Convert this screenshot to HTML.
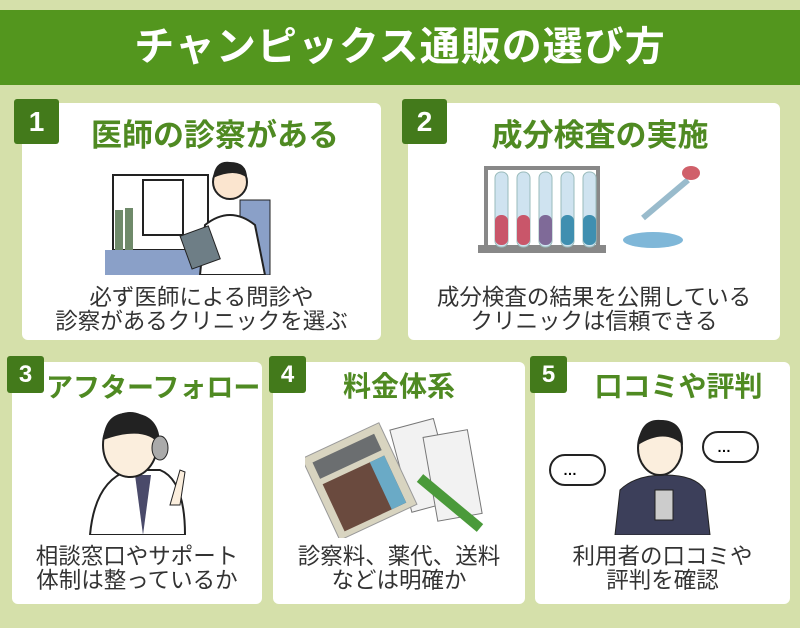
<!DOCTYPE html>
<html><head><meta charset="utf-8"><style>
*{margin:0;padding:0;box-sizing:border-box}
body{width:800px;height:628px;background:#d5e0aa;position:relative;overflow:hidden;font-family:"Liberation Sans","Noto Sans CJK JP",sans-serif}
.hdr{position:absolute;left:0;top:10px;width:800px;height:75px;background:#53961e;color:#fff;font-weight:bold;font-size:40px;text-align:center;line-height:75px;letter-spacing:1px}
.card{position:absolute;background:#fff;border-radius:6px}
.badge{position:absolute;background:#437a1b;color:#fff;font-weight:bold;border-radius:3px;text-align:center}
.h{position:absolute;color:#4f8a22;font-weight:bold;text-align:center;white-space:nowrap}
.t{position:absolute;color:#333;text-align:center;font-size:22.5px;line-height:24px;white-space:nowrap}
svg{position:absolute}
</style></head><body>
<div class="hdr">チャンピックス通販の選び方</div>

<div class="card" style="left:22px;top:103px;width:359px;height:237px"></div>
<div class="badge" style="left:14px;top:99px;width:45px;height:45px;font-size:28px;line-height:45px">1</div>
<div class="h" style="left:22px;top:110px;width:386px;font-size:31px">医師の診察がある</div>
<svg style="left:105px;top:150px" width="180" height="125">
<rect x="8" y="25" width="95" height="75" fill="#fff" stroke="#222" stroke-width="2"/>
<rect x="38" y="30" width="40" height="55" fill="#fff" stroke="#222" stroke-width="2"/>
<rect x="10" y="60" width="8" height="40" fill="#6f8a6a"/><rect x="20" y="58" width="8" height="42" fill="#6f8a6a"/>
<rect x="0" y="100" width="110" height="25" fill="#8aa0c8"/>
<rect x="135" y="50" width="30" height="75" fill="#8aa0c8" stroke="#222"/>
<path d="M95 125 L100 75 Q125 55 150 75 L160 125 Z" fill="#fff" stroke="#222" stroke-width="2"/>
<circle cx="125" cy="32" r="17" fill="#fbe5cf" stroke="#222" stroke-width="2"/>
<path d="M108 28 Q110 10 125 12 Q142 12 142 28 Q130 18 108 28" fill="#222"/>
<rect x="80" y="80" width="30" height="35" fill="#6e7e86" stroke="#222" transform="rotate(-20 95 97)"/>
</svg>
<div class="t" style="left:22px;top:286px;width:359px">必ず医師による問診や<br>診察があるクリニックを選ぶ</div>

<div class="card" style="left:408px;top:103px;width:372px;height:237px"></div>
<div class="badge" style="left:402px;top:99px;width:45px;height:45px;font-size:28px;line-height:45px">2</div>
<div class="h" style="left:420px;top:110px;width:360px;font-size:31px">成分検査の実施</div>
<svg style="left:478px;top:160px" width="250" height="105">
<rect x="8" y="8" width="112" height="80" fill="none" stroke="#888" stroke-width="4"/>
<rect x="0" y="85" width="128" height="8" fill="#888"/>
<g fill="#cfe3f0" stroke="#9bb">
<rect x="17" y="12" width="13" height="75" rx="6"/><rect x="39" y="12" width="13" height="75" rx="6"/><rect x="61" y="12" width="13" height="75" rx="6"/><rect x="83" y="12" width="13" height="75" rx="6"/><rect x="105" y="12" width="13" height="75" rx="6"/></g>
<rect x="17" y="55" width="13" height="30" rx="6" fill="#c9566a"/><rect x="39" y="55" width="13" height="30" rx="6" fill="#c9566a"/><rect x="61" y="55" width="13" height="30" rx="6" fill="#7f6a98"/><rect x="83" y="55" width="13" height="30" rx="6" fill="#3f8fb0"/><rect x="105" y="55" width="13" height="30" rx="6" fill="#3f8fb0"/>
<line x1="165" y1="58" x2="210" y2="20" stroke="#9bc" stroke-width="6"/>
<ellipse cx="213" cy="13" rx="9" ry="7" fill="#d0606a"/>
<ellipse cx="175" cy="80" rx="30" ry="8" fill="#7fb7d8"/>
</svg>
<div class="t" style="left:408px;top:286px;width:372px">成分検査の結果を公開している<br>クリニックは信頼できる</div>

<div class="card" style="left:12px;top:362px;width:250px;height:242px"></div>
<div class="badge" style="left:7px;top:356px;width:37px;height:37px;font-size:24px;line-height:37px">3</div>
<div class="h" style="left:46px;top:366px;width:214px;font-size:27px">アフターフォロー</div>
<svg style="left:85px;top:410px" width="110" height="125">
<path d="M5 125 Q10 70 45 60 L75 60 Q100 70 100 125 Z" fill="#fff" stroke="#222" stroke-width="2"/>
<path d="M50 65 L58 125 L66 65 Z" fill="#4a4a6a"/>
<ellipse cx="45" cy="35" rx="27" ry="32" fill="#fbeedd" stroke="#222" stroke-width="2"/>
<path d="M18 30 Q20 0 48 3 Q75 5 75 35 Q60 15 18 30" fill="#222"/>
<ellipse cx="75" cy="38" rx="8" ry="12" fill="#aaa" stroke="#222"/>
<path d="M85 95 L95 60 L100 62 L95 95 Z" fill="#fbeedd" stroke="#222"/>
</svg>
<div class="t" style="left:12px;top:545px;width:250px">相談窓口やサポート<br>体制は整っているか</div>

<div class="card" style="left:273px;top:362px;width:252px;height:242px"></div>
<div class="badge" style="left:269px;top:356px;width:37px;height:37px;font-size:24px;line-height:37px">4</div>
<div class="h" style="left:273px;top:365px;width:252px;font-size:28px">料金体系</div>
<svg style="left:305px;top:418px" width="190" height="120">
<rect x="95" y="5" width="45" height="85" fill="#f2f2f2" stroke="#777" transform="rotate(-15 117 47)"/>
<rect x="125" y="15" width="45" height="85" fill="#f2f2f2" stroke="#777" transform="rotate(-10 147 57)"/>
<g transform="rotate(-25 50 60)"><rect x="10" y="20" width="85" height="90" fill="#d8d4c0" stroke="#999"/>
<rect x="18" y="28" width="68" height="18" fill="#6b6e70"/>
<rect x="18" y="52" width="68" height="52" fill="#6a4a3e"/><rect x="70" y="52" width="16" height="52" fill="#6aaac6"/></g>
<line x1="115" y1="60" x2="175" y2="110" stroke="#4a9a3a" stroke-width="10"/>
</svg>
<div class="t" style="left:273px;top:545px;width:252px">診察料、薬代、送料<br>などは明確か</div>

<div class="card" style="left:535px;top:362px;width:255px;height:242px"></div>
<div class="badge" style="left:530px;top:356px;width:37px;height:37px;font-size:24px;line-height:37px">5</div>
<div class="h" style="left:567px;top:365px;width:223px;font-size:28px">口コミや評判</div>
<svg style="left:545px;top:410px" width="240" height="125">
<rect x="5" y="45" width="55" height="30" rx="15" fill="#fff" stroke="#222" stroke-width="2"/><text x="18" y="65" font-size="14" font-weight="bold">…</text>
<rect x="158" y="22" width="55" height="30" rx="15" fill="#fff" stroke="#222" stroke-width="2"/><text x="172" y="42" font-size="14" font-weight="bold">…</text>
<path d="M70 125 L75 80 Q90 65 120 65 Q150 65 160 80 L165 125 Z" fill="#3c3f5a" stroke="#222"/>
<ellipse cx="115" cy="38" rx="22" ry="27" fill="#fbeedd" stroke="#222" stroke-width="2"/>
<path d="M93 35 Q95 8 116 10 Q138 10 138 35 Q120 18 93 35" fill="#222"/>
<rect x="110" y="80" width="18" height="30" fill="#ccc" stroke="#222"/>
</svg>
<div class="t" style="left:535px;top:545px;width:255px">利用者の口コミや<br>評判を確認</div>
</body></html>
